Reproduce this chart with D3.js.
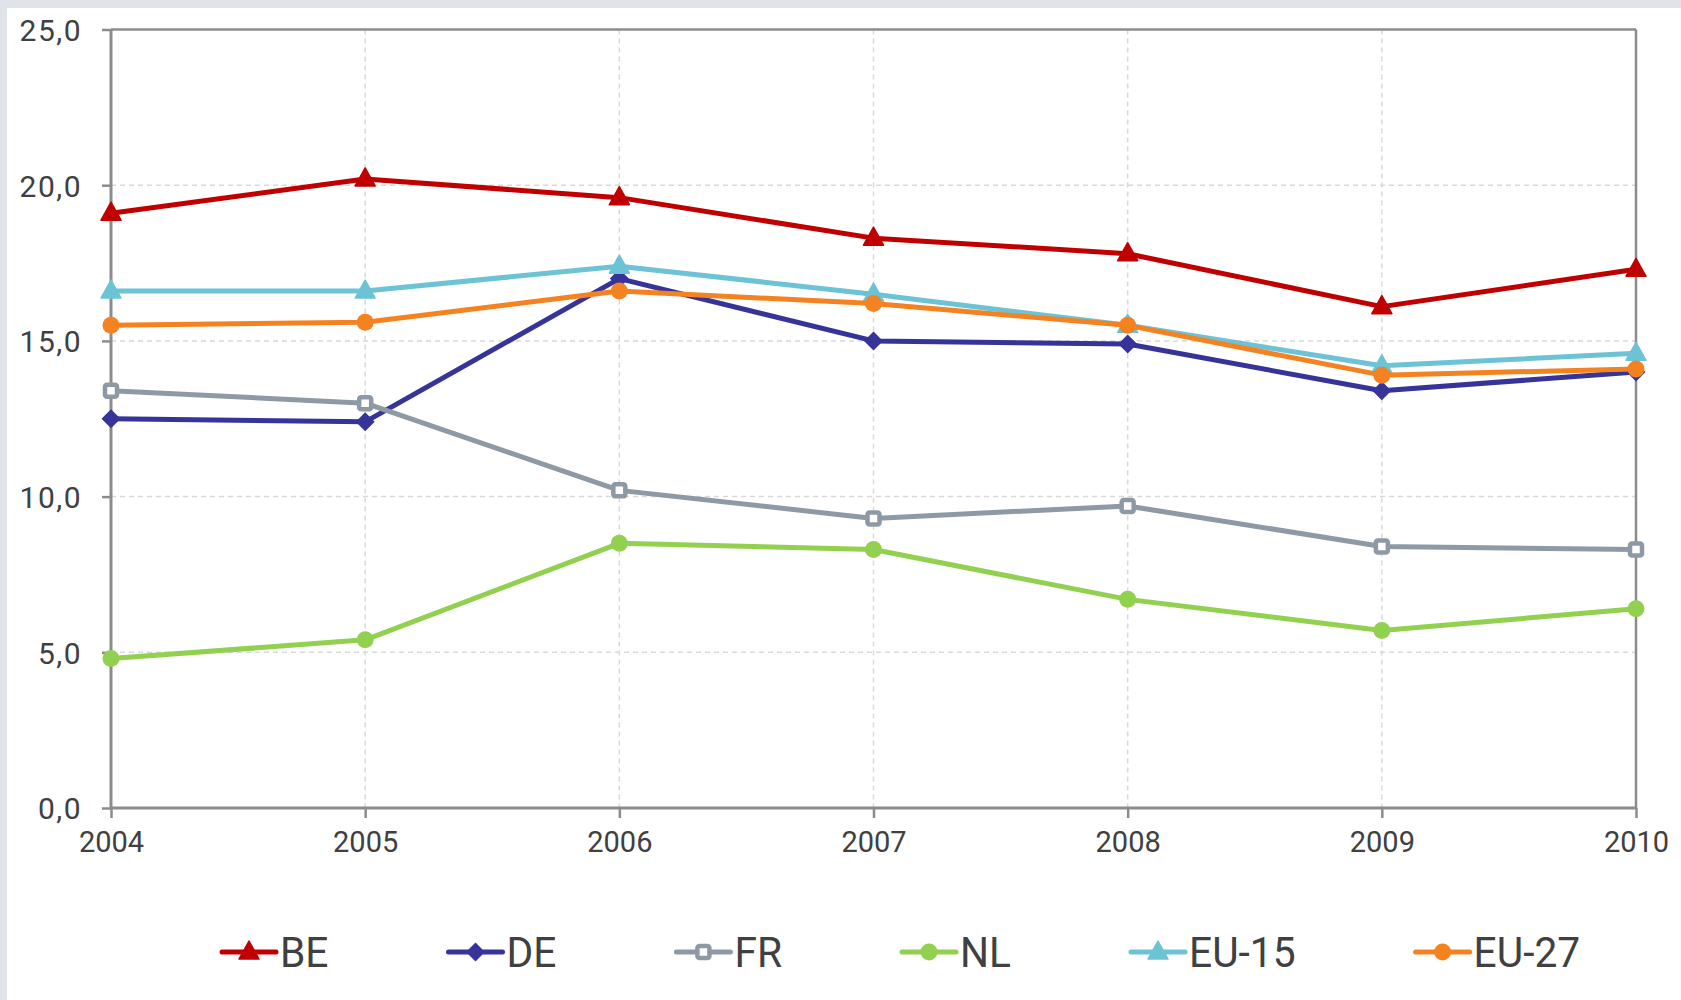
<!DOCTYPE html>
<html>
<head>
<meta charset="utf-8">
<script src="https://cdn.jsdelivr.net/npm/d3@7"></script>
<style>
  html, body { margin: 0; padding: 0; background: #e0e4e9; }
  svg { display: block; }
  text { font-family: Roboto, "Liberation Sans", Arial, sans-serif; fill: #404040; }
</style>
</head>
<body>
<svg id="chart" width="1681" height="1000"></svg>
<script>
// ---- data ----
const years = ["2004", "2005", "2006", "2007", "2008", "2009", "2010"];
const seriesNames = ["BE", "DE", "FR", "NL", "EU-15", "EU-27"];
const valuesBE   = [19.1, 20.2, 19.6, 18.3, 17.8, 16.1, 17.3];
const valuesDE   = [12.5, 12.4, 17.0, 15.0, 14.9, 13.4, 14.0];
const valuesFR   = [13.4, 13.0, 10.2, 9.3, 9.7, 8.4, 8.3];
const valuesNL   = [4.8, 5.4, 8.5, 8.3, 6.7, 5.7, 6.4];
const valuesEU15 = [16.6, 16.6, 17.4, 16.5, 15.5, 14.2, 14.6];
const valuesEU27 = [15.5, 15.6, 16.6, 16.2, 15.5, 13.9, 14.1];
const yTicks = [0, 5, 10, 15, 20, 25];
const yTickLabels = ["0,0", "5,0", "10,0", "15,0", "20,0", "25,0"];

// ---- styles ----
const colors = {"BE": "#c00000", "DE": "#363399", "FR": "#8e99a6", "NL": "#92d050", "EU-15": "#6cc3d5", "EU-27": "#f58220"};
const markers = {"BE": "triangle", "DE": "diamond", "FR": "square", "NL": "circle", "EU-15": "triangle", "EU-27": "circle"};

const series = seriesNames.map((name, i) => ({
  name,
  values: [valuesBE, valuesDE, valuesFR, valuesNL, valuesEU15, valuesEU27][i]
}));

const svg = d3.select("#chart");
svg.append("rect").attr("x", 0).attr("y", 0).attr("width", 1681).attr("height", 1000).attr("fill", "#e0e4e9");
svg.append("rect").attr("x", 7).attr("y", 8).attr("width", 1674).attr("height", 992).attr("fill", "#ffffff");

const pLeft = 111, pRight = 1636, pTop = 29.5, pBottom = 808;
const x = d3.scalePoint().domain(years).range([pLeft, pRight]);
const y = d3.scaleLinear().domain([0, 25]).range([pBottom, pTop]);

const g = svg.append("g");

// gridlines
g.append("g").selectAll("line").data(yTicks.filter(t => t > 0 && t < 25)).join("line")
  .attr("x1", pLeft).attr("x2", pRight).attr("y1", d => y(d)).attr("y2", d => y(d))
  .attr("stroke", "#d9d9d9").attr("stroke-width", 1.5).attr("stroke-dasharray", "5,4");
g.append("g").selectAll("line").data(years.slice(1, -1)).join("line")
  .attr("x1", d => x(d)).attr("x2", d => x(d)).attr("y1", pTop).attr("y2", pBottom)
  .attr("stroke", "#d9d9d9").attr("stroke-width", 1.5).attr("stroke-dasharray", "5,4");

// frame top/right
g.append("line").attr("x1", pLeft).attr("x2", pRight).attr("y1", pTop).attr("y2", pTop)
  .attr("stroke", "#8c8c8c").attr("stroke-width", 2.5);
g.append("line").attr("x1", pRight).attr("x2", pRight).attr("y1", pTop).attr("y2", pBottom)
  .attr("stroke", "#8c8c8c").attr("stroke-width", 2.5);

// axes
const yAxis = d3.axisLeft(y).tickValues(yTicks).tickSize(9).tickPadding(20)
  .tickFormat((d, i) => yTickLabels[i]);
const yG = g.append("g").attr("transform", `translate(${pLeft},0)`).call(yAxis);
const xAxis = d3.axisBottom(x).tickSize(10).tickPadding(8);
const xG = g.append("g").attr("transform", `translate(0,${pBottom})`).call(xAxis);
[yG, xG].forEach(ax => {
  ax.select(".domain").attr("stroke", "#8c8c8c").attr("stroke-width", 3);
  ax.selectAll(".tick line").attr("stroke", "#8c8c8c").attr("stroke-width", 2.5);
  ax.selectAll(".tick text").attr("font-family", "Roboto, 'Liberation Sans', Arial, sans-serif")
    .attr("font-size", 29).attr("fill", "#404040");
});
yG.select(".domain").attr("d", `M0,${pTop}V${pBottom}`);
xG.select(".domain").attr("d", `M${pLeft},0H${pRight}`);
yG.selectAll(".tick text").attr("dy", "0.36em").attr("font-size", 30).attr("letter-spacing", 1.5);
xG.selectAll(".tick text").attr("dy", "0.9em");

// markers
function drawMarker(sel, type, color) {
  if (type === "triangle") {
    sel.append("path").attr("d", "M0,-11 L10,7 L-10,7 Z").attr("fill", color)
      .attr("stroke", color).attr("stroke-width", 1.5).attr("stroke-linejoin", "round");
  } else if (type === "diamond") {
    sel.append("path").attr("d", "M0,-9.5 L9.5,0 L0,9.5 L-9.5,0 Z").attr("fill", color);
  } else if (type === "square") {
    sel.append("rect").attr("x", -6).attr("y", -6).attr("width", 12).attr("height", 12)
      .attr("rx", 2).attr("fill", "#ffffff").attr("stroke", color).attr("stroke-width", 4.5);
  } else {
    sel.append("circle").attr("r", 8.5).attr("fill", color);
  }
}

const line = d3.line().x((d, i) => x(years[i])).y(d => y(d));
series.forEach(s => {
  const sg = g.append("g");
  sg.append("path").attr("d", line(s.values)).attr("fill", "none")
    .attr("stroke", colors[s.name]).attr("stroke-width", 5).attr("stroke-linejoin", "round");
  s.values.forEach((v, i) => {
    const m = sg.append("g").attr("transform", `translate(${x(years[i])},${y(v)})`);
    drawMarker(m, markers[s.name], colors[s.name]);
  });
});

// legend
const legendScale = 0.97;
const legend = svg.append("g").attr("transform", "translate(0,952)");
let lx = 222;
series.forEach(s => {
  const item = legend.append("g").attr("transform", `translate(${lx},0)`);
  item.append("line").attr("x1", 0).attr("x2", 54).attr("y1", 0).attr("y2", 0)
    .attr("stroke", colors[s.name]).attr("stroke-width", 5).attr("stroke-linecap", "round");
  const m = item.append("g").attr("transform", "translate(27,0)");
  drawMarker(m, markers[s.name], colors[s.name]);
  const t = item.append("text").attr("x", 0).attr("y", 0).attr("dy", "0.36em")
    .attr("font-size", 42).attr("transform", `translate(58,0) scale(${legendScale},1)`).text(s.name);
  const w = t.node().getComputedTextLength() * legendScale;
  lx += 58 + w + 120;
});
</script>
</body>
</html>
